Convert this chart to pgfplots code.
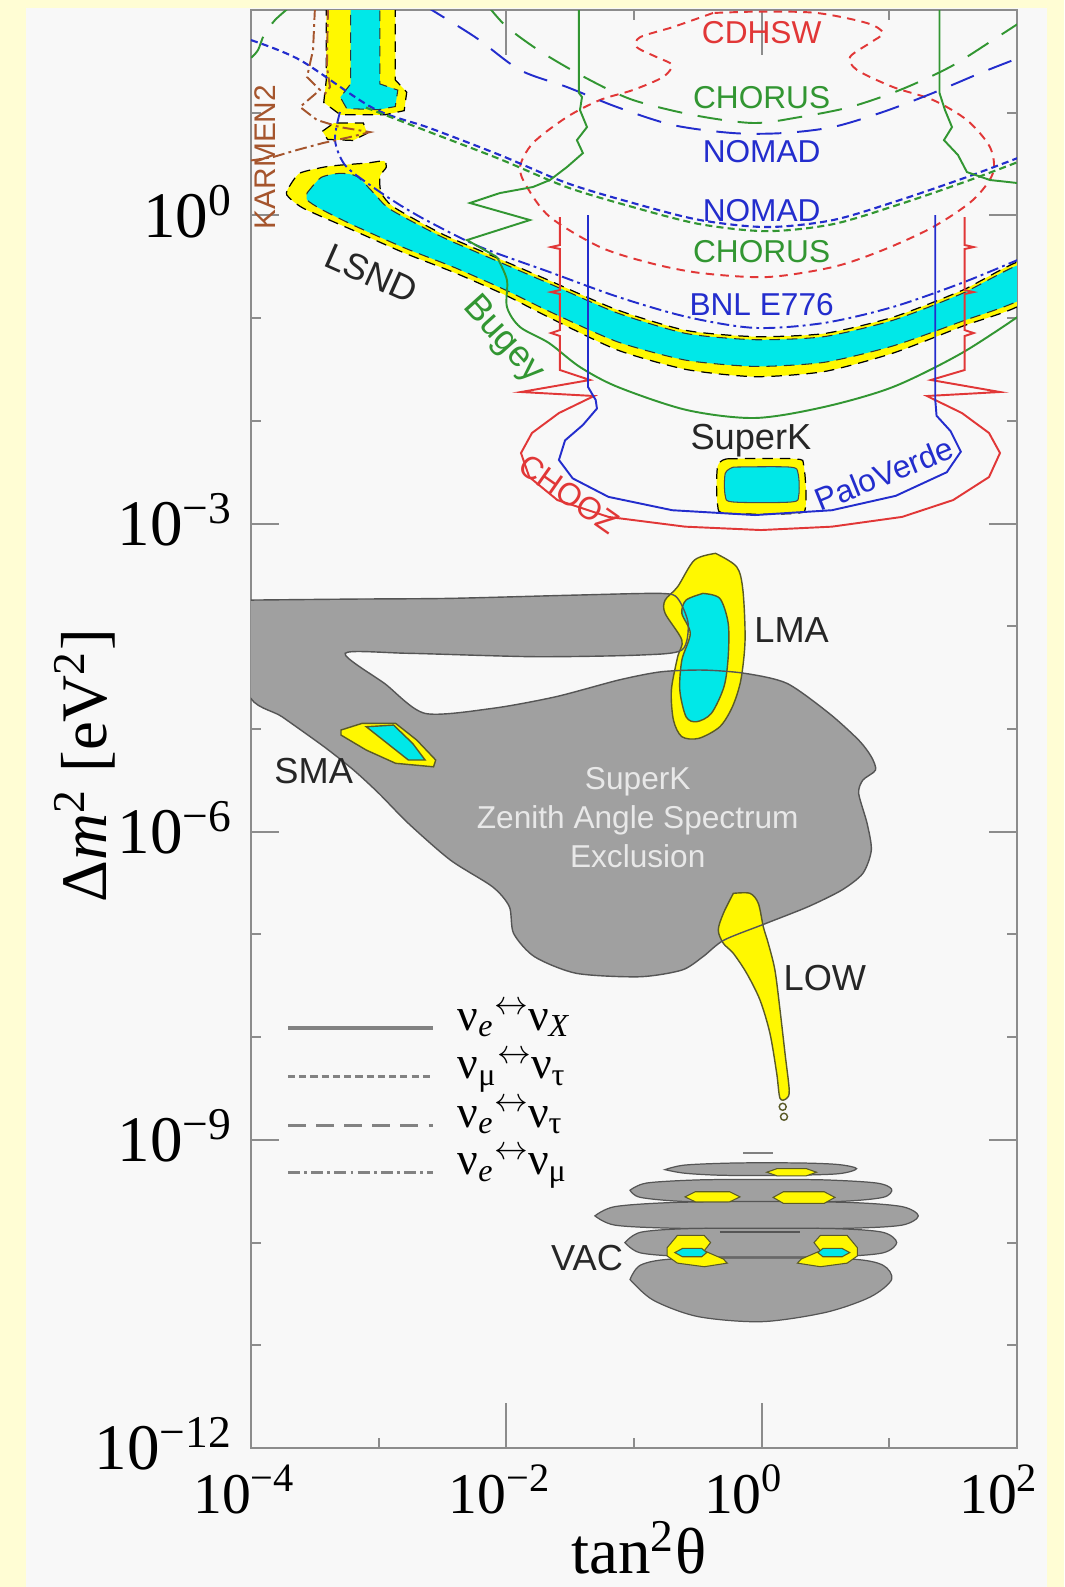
\documentclass[border=0pt]{standalone}
\usepackage{fontspec}
\setmainfont{Liberation Serif}
\newfontfamily\lsans{Liberation Sans}
\usepackage{pgfplots}
\usepackage{pgfplotstable}
\pgfplotsset{compat=1.18}
\definecolor{cream}{RGB}{255,253,212}
\definecolor{panel}{RGB}{248,248,248}
\definecolor{yel}{RGB}{255,248,0}
\definecolor{cya}{RGB}{0,232,232}
\definecolor{gfill}{RGB}{160,160,160}
\definecolor{gline}{RGB}{85,85,85}
\definecolor{oline}{RGB}{90,90,40}
\definecolor{rd}{RGB}{225,55,55}
\definecolor{gr}{RGB}{50,150,50}
\definecolor{bl}{RGB}{35,45,205}
\definecolor{br}{RGB}{165,85,45}
\definecolor{lt}{RGB}{232,232,232}
\definecolor{legc}{RGB}{130,130,130}
\tikzset{
 dshort/.style={dash pattern=on 2pt off 1.2pt},
 dlong/.style={dash pattern=on 7pt off 4.5pt},
 ddot/.style={dash pattern=on 3.4pt off 1.2pt on 0.8pt off 1.2pt},
 dred/.style={dash pattern=on 2.4pt off 1.8pt},
}
\pgfplotsset{table/LL/.style={x expr=10^(\thisrowno{0}), y expr=10^(\thisrowno{1})}}
\newcommand\labf{\lsans\fontsize{9}{10.5}\selectfont}
\newcommand\labF{\lsans\fontsize{10.3}{11}\selectfont}
\newcommand\xlab[1]{\llap{10}\rlap{\textsuperscript{#1}}}
\newcommand\ylab[1]{10\textsuperscript{#1}}
\newcommand\nl[2]{ν\textsubscript{#1}\raisebox{0.75ex}{\scalebox{0.8}{$\leftrightarrow$}}ν\textsubscript{#2}}

% ---------- main grey region (log10 tan^2, log10 dm^2) ----------
\pgfplotstableread[row sep=\\]{
-4.02 -3.745\\ -3.2 -3.735\\ -2.438 -3.728\\ -1.449 -3.696\\ -0.789 -3.680\\ -0.658 -3.728\\ -0.576 -3.971\\ -0.625 -4.231\\ -0.955 -4.280\\ -1.779 -4.296\\ -2.767 -4.263\\ -3.262 -4.263\\ -2.95 -4.56\\ -2.636 -4.848\\ -2.108 -4.799\\ -1.613 -4.686\\ -1.119 -4.523\\ -0.789 -4.443\\ -0.460 -4.426\\ -0.131 -4.458\\ 0.199 -4.556\\ 0.529 -4.848\\ 0.760 -5.108\\ 0.859 -5.270\\ 0.892 -5.400\\ 0.793 -5.497\\ 0.760 -5.627\\ 0.826 -5.919\\ 0.859 -6.179\\ 0.793 -6.405\\ 0.628 -6.568\\ 0.364 -6.730\\ 0.035 -6.892\\ -0.295 -7.055\\ -0.460 -7.217\\ -0.625 -7.347\\ -0.955 -7.412\\ -1.449 -7.379\\ -1.779 -7.217\\ -1.943 -6.990\\ -1.976 -6.730\\ -2.108 -6.536\\ -2.438 -6.276\\ -2.767 -5.919\\ -2.998 -5.627\\ -3.196 -5.400\\ -3.427 -5.173\\ -3.756 -4.881\\ -4.02 -4.653\\ -4.02 -3.745\\
}\grayreg

\begin{document}
\begin{tikzpicture}
\useasboundingbox (-2.51,-1.39) rectangle (8.13,14.48);
\fill[cream] (-2.51,-1.39) rectangle (8.13,14.48);
\fill[panel] (-2.25,-1.39) rectangle (7.96,14.40);
\begin{axis}[
  at={(0,0)}, anchor=south west,
  scale only axis, width=7.66cm, height=14.38cm,
  xmode=log, ymode=log,
  xmin=1e-4, xmax=1e2, ymin=1e-12, ymax=1e2,
  axis line style={draw=gray!90, line width=0.6pt},
  every tick/.style={gray!90, line width=0.6pt},
  tick align=inside,
  major tick length=8pt, minor tick length=2.85pt,
  xtick={1e-4,1e-2,1,1e2},
  xticklabels={\xlab{−4},\xlab{−2},\xlab{0},\xlab{2}},
  minor xtick={1e-3,1e-1,10},
  extra x ticks={1e-2,1},
  extra x tick labels={},
  extra x tick style={major tick length=12.8pt},
  ytick={1e-12,1e-9,1e-6,1e-3,1},
  yticklabels={\ylab{−12},\ylab{−9},\ylab{−6},\ylab{−3},\ylab{0}},
  minor ytick={1e-11,1e-10,1e-8,1e-7,1e-5,1e-4,1e-2,1e-1,10},
  yticklabel style={font=\fontsize{18.5}{20}\selectfont, anchor=base east, inner sep=0pt, xshift=-5pt, yshift=-6.2pt},
  xticklabel style={font=\fontsize{16.4}{18}\selectfont, anchor=north, inner sep=0pt, yshift=-4.6pt},
  label style={font=\fontsize{18.5}{20}\selectfont},
  xlabel={tan\textsuperscript{2}θ},
  xlabel style={at={(axis description cs:0.5065,-0.0876)}, anchor=base},
  ylabel={Δ\textit{m}\textsuperscript{2} [eV\textsuperscript{2}]},
  ylabel style={at={(axis description cs:-0.188,0.4746)}, anchor=base},
  clip=true,
]
% ===== grey exclusion regions =====
\addplot[fill=gfill, draw=none, smooth, tension=0.45, forget plot] table[LL]{\grayreg} -- cycle;
\addplot[fill=gfill, draw=gline, line width=0.35pt, smooth, tension=0.5, forget plot] table[LL, row sep=\\]{
-0.757 -9.29\\ -0.6 -9.245\\ -0.2 -9.225\\ 0.3 -9.225\\ 0.6 -9.24\\ 0.744 -9.28\\ 0.6 -9.33\\ 0.2 -9.345\\ -0.3 -9.345\\ -0.6 -9.325\\ -0.757 -9.29\\
} -- cycle;
\addplot[fill=gfill, draw=gline, line width=0.35pt, smooth, tension=0.5, forget plot] table[LL, row sep=\\]{
-1.031 -9.49\\ -0.9 -9.42\\ -0.5 -9.39\\ 0 -9.385\\ 0.5 -9.39\\ 0.9 -9.42\\ 1.018 -9.48\\ 0.95 -9.56\\ 0.6 -9.6\\ 0 -9.605\\ -0.6 -9.6\\ -0.95 -9.56\\ -1.031 -9.49\\
} -- cycle;
\addplot[fill=gfill, draw=gline, line width=0.35pt, smooth, tension=0.5, forget plot] table[LL, row sep=\\]{
-1.306 -9.74\\ -1.15 -9.65\\ -0.7 -9.61\\ 0 -9.60\\ 0.7 -9.61\\ 1.1 -9.65\\ 1.227 -9.74\\ 1.1 -9.83\\ 0.7 -9.86\\ 0 -9.865\\ -0.7 -9.86\\ -1.15 -9.83\\ -1.306 -9.74\\
} -- cycle;
\addplot[fill=gfill, draw=gline, line width=0.35pt, smooth, tension=0.5, forget plot] table[LL, row sep=\\]{
-1.071 -10.0\\ -0.95 -9.9\\ -0.6 -9.865\\ 0 -9.86\\ 0.6 -9.865\\ 0.95 -9.9\\ 1.058 -10.0\\ 0.95 -10.1\\ 0.6 -10.135\\ 0 -10.14\\ -0.6 -10.135\\ -0.95 -10.1\\ -1.071 -10.0\\
} -- cycle;
\addplot[fill=gfill, draw=gline, line width=0.35pt, smooth, tension=0.5, forget plot] table[LL, row sep=\\]{
-1.031 -10.36\\ -0.95 -10.22\\ -0.7 -10.16\\ 0 -10.15\\ 0.7 -10.16\\ 0.95 -10.22\\ 1.018 -10.36\\ 0.85 -10.53\\ 0.5 -10.68\\ 0 -10.77\\ -0.5 -10.72\\ -0.85 -10.56\\ -1.031 -10.36\\
} -- cycle;
% ===== LSND =====
\addplot[fill=yel, draw=black, line width=0.35pt, densely dashed, smooth, tension=0.4, forget plot] table[LL, row sep=\\]{
-3.70 0.28\\ -3.62 0.41\\ -3.43 0.47\\ -3.30 0.49\\ -3.09 0.51\\ -2.96 0.53\\ -2.94 0.47\\ -2.99 0.38\\ -2.98 0.22\\ -2.88 0.08\\ -2.52 -0.17\\ -2.21 -0.34\\ -1.67 -0.63\\ -1.13 -0.92\\ -0.59 -1.12\\ -0.05 -1.18\\ 0.49 -1.15\\ 1.03 -0.99\\ 1.57 -0.73\\ 2.05 -0.44\\ 2.05 -0.85\\ 1.57 -1.08\\ 1.03 -1.34\\ 0.49 -1.52\\ -0.05 -1.57\\ -0.59 -1.50\\ -1.13 -1.31\\ -1.67 -0.99\\ -2.00 -0.78\\ -2.40 -0.56\\ -2.79 -0.37\\ -3.19 -0.15\\ -3.59 0.07\\ -3.72 0.20\\ -3.70 0.28\\
} -- cycle;
\addplot[fill=cya, draw=black!80, line width=0.3pt, densely dashed, smooth, tension=0.4, forget plot] table[LL, row sep=\\]{
-3.56 0.22\\ -3.45 0.37\\ -3.30 0.41\\ -3.17 0.38\\ -3.04 0.22\\ -2.91 0.06\\ -2.52 -0.20\\ -2.21 -0.37\\ -1.67 -0.66\\ -1.13 -0.95\\ -0.59 -1.15\\ -0.05 -1.21\\ 0.49 -1.18\\ 1.03 -1.02\\ 1.57 -0.76\\ 2.05 -0.47\\ 2.05 -0.80\\ 1.57 -1.03\\ 1.03 -1.27\\ 0.49 -1.43\\ -0.05 -1.47\\ -0.59 -1.41\\ -1.13 -1.23\\ -1.67 -0.93\\ -2.00 -0.73\\ -2.40 -0.51\\ -2.79 -0.32\\ -3.19 -0.10\\ -3.45 0.06\\ -3.56 0.15\\ -3.56 0.22\\
} -- cycle;
\addplot[fill=yel, draw=black, line width=0.35pt, densely dashed, forget plot] table[LL, row sep=\\]{
-3.41 2.05\\ -2.87 2.05\\ -2.87 1.32\\ -2.78 1.20\\ -2.80 1.02\\ -2.95 0.98\\ -3.30 0.98\\ -3.43 1.10\\ -3.41 1.32\\
} -- cycle;
\addplot[fill=yel, draw=black, line width=0.35pt, densely dashed, forget plot] table[LL, row sep=\\]{
-3.44 0.82\\ -3.35 0.90\\ -3.12 0.90\\ -3.09 0.80\\ -3.20 0.73\\ -3.40 0.74\\
} -- cycle;
\addplot[fill=cya, draw=black!80, line width=0.3pt, densely dashed, forget plot] table[LL, row sep=\\]{
-3.22 2.05\\ -2.99 2.05\\ -2.99 1.28\\ -2.85 1.22\\ -2.87 1.06\\ -3.0 1.03\\ -3.25 1.04\\ -3.30 1.15\\ -3.22 1.28\\
} -- cycle;
% ===== SuperK atmospheric =====
\addplot[fill=yel, draw=black, line width=0.35pt, densely dashed, smooth, tension=0.5, forget plot] table[LL, row sep=\\]{
-0.27 -2.37\\ 0.26 -2.37\\ 0.33 -2.44\\ 0.345 -2.82\\ 0.27 -2.90\\ -0.27 -2.90\\ -0.345 -2.82\\ -0.345 -2.44\\ -0.27 -2.37\\
} -- cycle;
\addplot[fill=cya, draw=black!70, line width=0.3pt, smooth, tension=0.5, forget plot] table[LL, row sep=\\]{
-0.22 -2.45\\ 0.22 -2.45\\ 0.285 -2.51\\ 0.29 -2.73\\ 0.23 -2.79\\ -0.22 -2.79\\ -0.285 -2.73\\ -0.285 -2.51\\ -0.22 -2.45\\
} -- cycle;
% ===== LMA =====
\addplot[fill=yel, draw=oline, line width=0.4pt, smooth, tension=0.5, forget plot] table[LL, row sep=\\]{
-0.361 -3.290\\ -0.196 -3.420\\ -0.147 -3.647\\ -0.130 -4.134\\ -0.163 -4.523\\ -0.229 -4.783\\ -0.328 -4.978\\ -0.493 -5.091\\ -0.625 -5.075\\ -0.691 -4.913\\ -0.707 -4.621\\ -0.658 -4.297\\ -0.625 -4.134\\ -0.756 -3.874\\ -0.756 -3.745\\ -0.658 -3.615\\ -0.526 -3.355\\ -0.361 -3.290\\
} -- cycle;
\addplot[fill=cya, draw=oline, line width=0.4pt, smooth, tension=0.5, forget plot] table[LL, row sep=\\]{
-0.460 -3.680\\ -0.328 -3.728\\ -0.262 -3.971\\ -0.262 -4.296\\ -0.295 -4.588\\ -0.394 -4.848\\ -0.510 -4.929\\ -0.592 -4.881\\ -0.641 -4.621\\ -0.625 -4.329\\ -0.559 -4.069\\ -0.625 -3.874\\ -0.592 -3.745\\ -0.460 -3.680\\
} -- cycle;
% ===== SMA =====
\addplot[fill=yel, draw=oline, line width=0.4pt, forget plot] table[LL, row sep=\\]{
-3.295 -5.010\\ -3.130 -4.945\\ -2.867 -4.945\\ -2.701 -5.108\\ -2.553 -5.302\\ -2.570 -5.368\\ -2.867 -5.334\\ -3.097 -5.205\\ -3.295 -5.059\\
} -- cycle;
\addplot[fill=cya, draw=oline, line width=0.4pt, forget plot] table[LL, row sep=\\]{
-3.097 -4.978\\ -2.883 -4.962\\ -2.734 -5.140\\ -2.636 -5.302\\ -2.767 -5.302\\ -2.932 -5.140\\
} -- cycle;
% ===== LOW =====
\addplot[fill=yel, draw=oline, line width=0.4pt, smooth, tension=0.5, forget plot] table[LL, row sep=\\]{
-0.222 -6.600\\ -0.091 -6.600\\ -0.026 -6.698\\ 0.013 -6.925\\ 0.052 -7.087\\ 0.104 -7.347\\ 0.144 -7.736\\ 0.183 -8.158\\ 0.216 -8.515\\ 0.196 -8.596\\ 0.144 -8.596\\ 0.118 -8.353\\ 0.065 -7.963\\ -0.013 -7.639\\ -0.117 -7.379\\ -0.222 -7.184\\ -0.300 -7.087\\ -0.340 -6.957\\ -0.300 -6.795\\ -0.222 -6.600\\
} -- cycle;
\addplot[only marks, mark=o, mark size=1pt, draw=oline, fill=yel, forget plot] table[LL, row sep=\\]{
0.165 -8.678\\ 0.175 -8.775\\
};
% ===== VAC small regions =====
\addplot[fill=yel, draw=oline, line width=0.3pt, forget plot] table[LL, row sep=\\]{
0.04 -9.315\\ 0.12 -9.28\\ 0.35 -9.28\\ 0.43 -9.315\\ 0.35 -9.35\\ 0.12 -9.35\\
} -- cycle;
\addplot[fill=yel, draw=oline, line width=0.3pt, forget plot] table[LL, row sep=\\]{
-0.60 -9.555\\ -0.52 -9.505\\ -0.25 -9.505\\ -0.17 -9.555\\ -0.25 -9.603\\ -0.52 -9.603\\
} -- cycle;
\addplot[fill=yel, draw=oline, line width=0.3pt, forget plot] table[LL, row sep=\\]{
0.09 -9.56\\ 0.17 -9.505\\ 0.49 -9.505\\ 0.574 -9.56\\ 0.49 -9.618\\ 0.17 -9.618\\
} -- cycle;
\addplot[fill=yel, draw=oline, line width=0.3pt, forget plot] table[LL, row sep=\\]{
-0.74 -10.05\\ -0.66 -9.93\\ -0.45 -9.93\\ -0.40 -10.0\\ -0.45 -10.08\\ -0.30 -10.16\\ -0.27 -10.2\\ -0.45 -10.235\\ -0.66 -10.2\\ -0.74 -10.13\\
} -- cycle;
\addplot[fill=yel, draw=oline, line width=0.3pt, forget plot] table[LL, row sep=\\]{
0.75 -10.05\\ 0.67 -9.93\\ 0.46 -9.93\\ 0.41 -10.0\\ 0.46 -10.08\\ 0.31 -10.16\\ 0.28 -10.2\\ 0.46 -10.235\\ 0.67 -10.2\\ 0.75 -10.13\\
} -- cycle;
\addplot[fill=cya, draw=oline, line width=0.3pt, forget plot] table[LL, row sep=\\]{
-0.68 -10.097\\ -0.62 -10.057\\ -0.47 -10.057\\ -0.43 -10.097\\ -0.47 -10.138\\ -0.62 -10.138\\
} -- cycle;
\addplot[fill=cya, draw=oline, line width=0.3pt, forget plot] table[LL, row sep=\\]{
0.69 -10.097\\ 0.63 -10.057\\ 0.48 -10.057\\ 0.44 -10.097\\ 0.48 -10.138\\ 0.63 -10.138\\
} -- cycle;
\addplot[gline, line width=0.4pt, forget plot] table[LL, row sep=\\]{-0.327 -9.895\\ 0.300 -9.895\\};
\addplot[gray, line width=0.6pt, forget plot] table[LL, row sep=\\]{-0.146 -9.13\\ 0.089 -9.13\\};
% grey region outline on top
\addplot[draw=gline, line width=0.4pt, smooth, tension=0.45, forget plot] table[LL]{\grayreg};
% ===== exclusion curves =====
% CDHSW
\addplot[rd, line width=0.55pt, dred, smooth, tension=0.5, forget plot] table[LL, row sep=\\]{
-0.381 1.971\\ -0.695 1.834\\ -0.953 1.735\\ -0.977 1.638\\ -0.820 1.540\\ -0.703 1.465\\ -0.773 1.347\\ -1.008 1.221\\ -1.266 1.124\\ -1.525 0.958\\ -1.791 0.705\\ -1.893 0.471\\ -1.838 0.277\\ -1.658 -0.016\\ -1.266 -0.308\\ -0.875 -0.463\\ -0.483 -0.560\\ 0.042 -0.600\\ 0.559 -0.502\\ 0.950 -0.337\\ 1.342 -0.113\\ 1.655 0.150\\ 1.812 0.413\\ 1.788 0.666\\ 1.608 0.928\\ 1.342 1.124\\ 1.029 1.250\\ 0.747 1.416\\ 0.692 1.542\\ 0.848 1.679\\ 0.950 1.776\\ 0.825 1.873\\ 0.433 1.971\\ 0.0 1.985\\ -0.381 1.971\\
};
% CHORUS upper (long dash)
\addplot[gr, line width=0.55pt, dlong, smooth, tension=0.5, forget plot] table[LL, row sep=\\]{
-2.15 2.05\\ -1.995 1.834\\ -1.713 1.581\\ -1.345 1.318\\ -1.008 1.124\\ -0.538 0.978\\ -0.068 0.900\\ 0.300 0.958\\ 0.692 1.055\\ 1.083 1.221\\ 1.475 1.445\\ 1.812 1.708\\ 2.05 1.90\\
};
\addplot[gr, line width=0.55pt, dlong, smooth, tension=0.5, forget plot] table[LL, row sep=\\]{
-3.695 2.03\\ -3.812 1.902\\ -3.898 1.756\\ -3.945 1.61\\ -4.0 1.532\\
};
% NOMAD upper (long dash)
\addplot[bl, line width=0.55pt, dlong, smooth, tension=0.5, forget plot] table[LL, row sep=\\]{
-2.65 2.05\\ -2.245 1.737\\ -1.893 1.416\\ -1.525 1.250\\ -1.133 1.055\\ -0.695 0.880\\ -0.225 0.802\\ 0.167 0.802\\ 0.559 0.861\\ 0.950 1.007\\ 1.342 1.192\\ 1.734 1.397\\ 2.05 1.55\\
};
% NOMAD lower & CHORUS lower (short dashes)
\addplot[bl, line width=0.6pt, dshort, smooth, tension=0.5, forget plot] table[LL, row sep=\\]{
-4.0 1.707\\ -3.616 1.513\\ -3.044 1.045\\ -2.598 0.850\\ -2.050 0.588\\ -1.525 0.315\\ -1.008 0.121\\ -0.483 -0.045\\ 0.042 -0.113\\ 0.559 -0.045\\ 1.083 0.150\\ 1.608 0.374\\ 2.05 0.58\\
};
\addplot[gr, line width=0.6pt, dshort, smooth, tension=0.5, forget plot] table[LL, row sep=\\]{
-3.10 1.05\\ -2.598 0.81\\ -2.050 0.548\\ -1.525 0.275\\ -1.008 0.081\\ -0.483 -0.085\\ 0.042 -0.153\\ 0.559 -0.085\\ 1.083 0.110\\ 1.608 0.334\\ 2.05 0.54\\
};
% BNL E776 (dash-dot)
\addplot[bl, line width=0.55pt, ddot, smooth, tension=0.5, forget plot] table[LL, row sep=\\]{
-3.303 1.007\\ -3.342 0.734\\ -3.264 0.491\\ -3.068 0.296\\ -2.833 0.101\\ -2.598 -0.066\\ -2.206 -0.306\\ -1.666 -0.549\\ -1.125 -0.793\\ -0.585 -0.988\\ -0.052 -1.095\\ 0.488 -1.047\\ 1.029 -0.891\\ 1.569 -0.657\\ 2.05 -0.41\\
};
% KARMEN2
\addplot[br, line width=0.55pt, ddot, forget plot] table[LL, row sep=\\]{
-3.499 2.02\\ -3.514 1.610\\ -3.561 1.348\\ -3.460 1.221\\ -3.616 1.056\\ -3.483 0.929\\ -3.303 0.860\\ -3.068 0.811\\ -3.225 0.763\\ -3.436 0.705\\ -3.640 0.637\\ -3.828 0.568\\ -4.0 0.535\\
};
\addplot[br, line width=0.55pt, ddot, forget plot] table[LL, row sep=\\]{
-3.397 2.02\\ -3.405 1.445\\ -3.381 1.250\\ -3.44 1.15\\
};
% Bugey + green solid
\addplot[gr, line width=0.55pt, forget plot] table[LL, row sep=\\]{
-1.431 2.02\\ -1.431 1.192\\ -1.407 1.153\\ -1.423 1.026\\ -1.368 0.860\\ -1.447 0.733\\ -1.400 0.607\\ -1.525 0.471\\ -1.658 0.345\\ -1.791 0.277\\ -2.050 0.218\\ -2.285 0.121\\ -1.815 -0.045\\ -2.308 -0.240\\ -2.073 -0.405\\
};
\addplot[gr, line width=0.55pt, smooth, tension=0.5, forget plot] table[LL, row sep=\\]{
-2.073 -0.405\\ -1.995 -0.629\\ -1.995 -0.892\\ -1.893 -1.086\\ -1.666 -1.242\\ -1.423 -1.476\\ -1.125 -1.671\\ -0.585 -1.895\\ -0.052 -1.972\\ 0.488 -1.865\\ 1.029 -1.670\\ 1.569 -1.339\\ 2.05 -0.95\\
};
\addplot[gr, line width=0.55pt, forget plot] table[LL, row sep=\\]{
1.393 2.02\\ 1.393 1.192\\ 1.436 1.026\\ 1.491 0.860\\ 1.428 0.733\\ 1.538 0.588\\ 1.608 0.422\\ 1.788 0.345\\ 2.0 0.316\\
};
% CHOOZ
\addplot[rd, line width=0.55pt, forget plot] table[LL, row sep=\\]{
-1.58 -0.016\\ -1.58 -0.288\\ -1.65 -0.308\\ -1.58 -0.327\\ -1.58 -0.726\\ -1.65 -0.746\\ -1.58 -0.765\\ -1.58 -1.116\\ -1.65 -1.145\\ -1.58 -1.174\\ -1.58 -1.505\\ -1.345 -1.602\\ -1.885 -1.719\\ -1.313 -1.758\\ -1.588 -1.924\\ -1.799 -2.118\\ -1.885 -2.313\\ -1.820 -2.547\\ -1.600 -2.771\\ -1.20 -2.935\\ -0.60 -3.030\\ -0.005 -3.063\\ 0.55 -3.030\\ 1.10 -2.935\\ 1.50 -2.771\\ 1.781 -2.547\\ 1.867 -2.313\\ 1.781 -2.118\\ 1.569 -1.924\\ 1.295 -1.758\\ 1.867 -1.719\\ 1.326 -1.602\\ 1.59 -1.505\\ 1.59 -1.174\\ 1.66 -1.145\\ 1.59 -1.116\\ 1.59 -0.765\\ 1.66 -0.746\\ 1.59 -0.726\\ 1.59 -0.327\\ 1.66 -0.308\\ 1.59 -0.288\\ 1.59 -0.016\\
};
% PaloVerde
\addplot[bl, line width=0.55pt, forget plot] table[LL, row sep=\\]{
-1.36 0.004\\ -1.36 -1.670\\ -1.30 -1.797\\ -1.29 -1.880\\ -1.40 -2.040\\ -1.54 -2.190\\ -1.588 -2.381\\ -1.48 -2.560\\ -1.20 -2.740\\ -0.70 -2.870\\ -0.052 -2.917\\ 0.55 -2.870\\ 1.05 -2.730\\ 1.45 -2.500\\ 1.56 -2.300\\ 1.48 -2.100\\ 1.37 -1.950\\ 1.36 -1.797\\ 1.36 -1.670\\ 1.36 0.004\\
};
% ===== legend =====
\addplot[legc, line width=1.1pt, forget plot] table[LL, row sep=\\]{-3.71 -7.914\\ -2.574 -7.914\\};
\addplot[legc, line width=0.85pt, dshort, forget plot] table[LL, row sep=\\]{-3.71 -8.386\\ -2.574 -8.386\\};
\addplot[legc, line width=0.85pt, dash pattern=on 5pt off 3pt, forget plot] table[LL, row sep=\\]{-3.71 -8.856\\ -2.574 -8.856\\};
\addplot[legc, line width=0.85pt, ddot, forget plot] table[LL, row sep=\\]{-3.71 -9.320\\ -2.574 -9.320\\};
\node[font=\fontsize{13}{14}\selectfont, anchor=base west, inner sep=0pt] at (axis cs:4.11e-3,1.164e-8) {\nl{\textit{e}}{\textit{X}}};
\node[font=\fontsize{13}{14}\selectfont, anchor=base west, inner sep=0pt] at (axis cs:4.11e-3,3.93e-9) {\nl{μ}{τ}};
\node[font=\fontsize{13}{14}\selectfont, anchor=base west, inner sep=0pt] at (axis cs:4.11e-3,1.33e-9) {\nl{\textit{e}}{τ}};
\node[font=\fontsize{13}{14}\selectfont, anchor=base west, inner sep=0pt] at (axis cs:4.11e-3,4.57e-10) {\nl{\textit{e}}{μ}};
% ===== labels =====
\node[font=\labf, text=rd] at (axis cs:1,60) {CDHSW};
\node[font=\labf, text=gr] at (axis cs:1,13.9) {CHORUS};
\node[font=\labf, text=bl] at (axis cs:1,4.14) {NOMAD};
\node[font=\labf, text=bl] at (axis cs:1,1.114) {NOMAD};
\node[font=\labf, text=gr] at (axis cs:1,0.4395) {CHORUS};
\node[font=\labf, text=bl] at (axis cs:1,0.1343) {BNL E776};
\node[font=\labF, text=black!85, rotate=-24] at (axis cs:8.79e-4,0.273) {LSND};
\node[font=\labF, text=gr, rotate=-48, inner sep=0pt] at (axis cs:9.41e-3,0.0612) {Bugey};
\node[font=\lsans\fontsize{8.5}{9}\selectfont, text=br, rotate=90] at (axis cs:1.288e-4,3.70) {KARMEN2};
\node[font=\labF, text=black!85] at (axis cs:0.824,6.45e-3) {SuperK};
\node[font=\labf, text=bl, rotate=22, inner sep=0pt] at (axis cs:9.08,3.03e-3) {PaloVerde};
\node[font=\labf, text=rd, rotate=-35, inner sep=0pt] at (axis cs:0.031,1.94e-3) {CHOOZ};
\node[font=\labF, text=black!85] at (axis cs:1.718,9.25e-5) {LMA};
\node[font=\labF, text=black!85] at (axis cs:3.10e-4,3.86e-6) {SMA};
\node[font=\lsans\fontsize{9}{11.1}\selectfont, text=lt, align=center] at (axis cs:0.107,1.36e-6) {SuperK\\Zenith Angle Spectrum\\Exclusion};
\node[font=\labF, text=black!85] at (axis cs:3.13,3.76e-8) {LOW};
\node[font=\labF, text=black!85] at (axis cs:0.0429,7.0e-11) {VAC};
\end{axis}
\end{tikzpicture}
\end{document}
